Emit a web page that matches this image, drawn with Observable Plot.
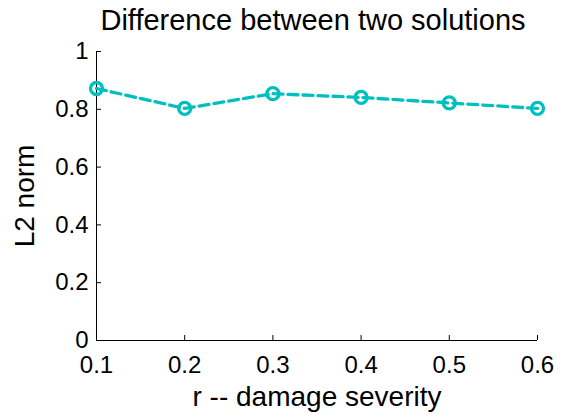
<!DOCTYPE html>
<html>
<head>
<meta charset="utf-8">
<script src="https://cdn.jsdelivr.net/npm/d3@7"></script>
<script src="https://cdn.jsdelivr.net/npm/@observablehq/plot@0.6"></script>
<style>
  html, body { margin: 0; padding: 0; background: #fff; }
  svg { display: block; }
</style>
</head>
<body>
<div id="chart"></div>
<script>
const severity = [0.1, 0.2, 0.3, 0.4, 0.5, 0.6];
const l2norm = [0.872, 0.803, 0.854, 0.841, 0.822, 0.803];
const xTicks = [0.1, 0.2, 0.3, 0.4, 0.5, 0.6];
const yTicks = [0, 0.2, 0.4, 0.6, 0.8, 1];
const titleText = ["Difference between two solutions"];
const xLabel = "r -- damage severity";
const yLabel = "L2 norm";

const data = severity.map((x, i) => ({x, y: l2norm[i]}));
const color = "#00BFBF";

const chart = Plot.plot({
  width: 566,
  height: 415,
  marginLeft: 96,
  marginRight: 29,
  marginTop: 51,
  marginBottom: 75,
  style: {fontFamily: "'Liberation Sans', Arial, sans-serif", color: "#000", background: "#fff"},
  x: {domain: [0.1, 0.6]},
  y: {domain: [0, 1]},
  marks: [
    Plot.ruleY([0], {stroke: "#000", strokeWidth: 1}),
    Plot.ruleX([0.1], {stroke: "#000", strokeWidth: 1}),
    Plot.axisX({
      ticks: xTicks, tickSize: -5, tickPadding: 20, fontSize: 24,
      tickFormat: d => d.toFixed(1),
      label: xLabel, labelAnchor: "center", labelArrow: "none", labelOffset: 65
    }),
    Plot.axisY({
      ticks: yTicks, tickSize: -5, tickPadding: 13, fontSize: 24,
      tickFormat: d => (d === 0 || d === 1) ? String(d) : d.toFixed(1),
      label: yLabel, labelAnchor: "center", labelArrow: "none", labelOffset: 82
    }),
    Plot.line(data, {x: "x", y: "y", stroke: color, strokeWidth: 3.3, strokeDasharray: "10,5"}),
    Plot.dot(data, {x: "x", y: "y", r: 6, stroke: color, strokeWidth: 3.3, fill: "none"}),
    Plot.text(titleText, {frameAnchor: "top", dx: -4, dy: -22, lineAnchor: "bottom", fontSize: 29, fill: "#000"})
  ]
});
chart.querySelectorAll("g[aria-label='x-axis label'] text, g[aria-label='y-axis label'] text").forEach(t => t.setAttribute("font-size", 28));
document.getElementById("chart").appendChild(chart);
</script>
</body>
</html>
